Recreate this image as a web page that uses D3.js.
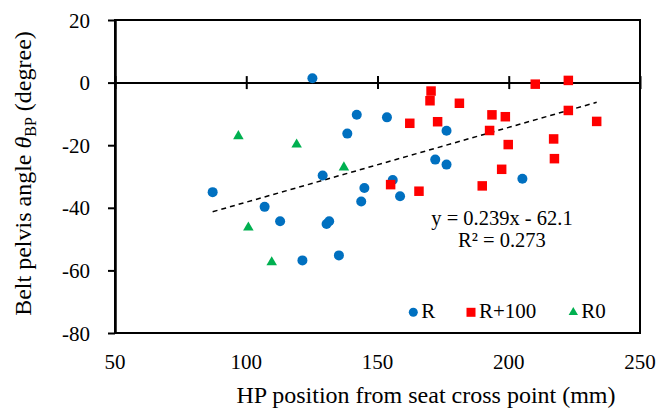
<!DOCTYPE html>
<html lang="en">
<head>
    <title>Belt pelvis angle vs HP position</title>
    <script src="https://d3js.org/d3.v7.min.js"></script>
    <style>
        body {
            margin: 0;
            background: white;
        }
        svg text {
            font-family: 'Liberation Serif', 'Times New Roman', serif;
            fill: #000;
        }
        .tick-label {
            font-size: 21px;
        }
        .axis-title {
            font-size: 24px;
        }
        .eq-text {
            font-size: 20.5px;
        }
        .legend-text {
            font-size: 21px;
        }
    </style>
</head>
<body>
    <div id="chart"></div>

    <script>
        // series R
        const rX = [125.2, 142.1, 153.6, 176.3, 138.5, 172.0, 176.3, 129.1, 155.8, 205.2,
                    87.2, 107.0, 112.9, 145.0, 158.6, 143.8, 130.6, 131.6, 121.4, 135.3];
        const rY = [1.4, -10.3, -11.1, -15.4, -16.3, -24.6, -26.2, -29.7, -31.1, -30.7,
                    -35.0, -39.7, -44.3, -33.7, -36.3, -38.0, -45.2, -44.3, -56.8, -55.2];
        // series R+100
        const r100X = [170.4, 170.0, 181.2, 162.3, 172.9, 210.1, 222.7, 222.7, 193.6, 198.7,
                       233.5, 192.7, 217.1, 199.8, 217.4, 197.3, 189.9, 155.0, 165.8];
        const r100Y = [-2.7, -5.8, -6.6, -13.0, -12.5, -0.5, 0.7, -8.9, -10.3, -10.9,
                       -12.4, -15.3, -18.0, -19.8, -24.3, -27.7, -33.0, -32.6, -34.7];
        // series R0
        const r0X = [97.0, 119.2, 137.2, 100.8, 109.7];
        const r0Y = [-17.1, -19.8, -27.1, -46.3, -57.4];

        const xTicks = [50, 100, 150, 200, 250];
        const yTicks = [20, 0, -20, -40, -60, -80];
        const slope = 0.239, intercept = -62.1, r2 = 0.273;

        const W = 657, H = 410;
        const margin = {top: 20, right: 17, bottom: 77, left: 115};
        const width = W - margin.left - margin.right;
        const height = H - margin.top - margin.bottom;

        const svg = d3.select("#chart")
            .append("svg")
            .attr("width", W)
            .attr("height", H);

        const g = svg.append("g")
            .attr("transform", `translate(${margin.left},${margin.top})`);

        const x = d3.scaleLinear().domain([50, 250]).range([0, width]);
        const y = d3.scaleLinear().domain([-80, 20]).range([height, 0]);

        // frame
        g.append("rect")
            .attr("width", width)
            .attr("height", height)
            .attr("fill", "none")
            .attr("stroke", "#000")
            .attr("stroke-width", 2);

        // y axis (left, outside ticks)
        const yAxis = g.append("g")
            .call(d3.axisLeft(y).tickValues(yTicks).tickSize(7).tickSizeOuter(0)
                .tickPadding(18).tickFormat(d => String(d)));
        yAxis.attr("font-family", null).attr("font-size", null);
        yAxis.select(".domain").attr("stroke-width", 2.5);
        yAxis.selectAll(".tick line").attr("stroke-width", 2);
        yAxis.selectAll(".tick text")
            .attr("class", "tick-label")
            .attr("dy", "0.34em");

        // x axis along y = 0, crossing ticks
        const xAxis = g.append("g")
            .attr("transform", `translate(0,${y(0)})`)
            .call(d3.axisBottom(x).tickValues(xTicks).tickSize(0).tickSizeOuter(0).tickFormat(""));
        xAxis.select(".domain").attr("stroke-width", 2);
        xAxis.selectAll(".tick line")
            .attr("y1", -6.5)
            .attr("y2", 6.5)
            .attr("stroke-width", 2);

        // x tick labels at the bottom
        g.append("g")
            .selectAll("text")
            .data(xTicks)
            .join("text")
            .attr("class", "tick-label")
            .attr("x", d => x(d))
            .attr("y", 369 - margin.top)
            .attr("text-anchor", "middle")
            .text(d => d);

        // trend line
        const allX = rX.concat(r100X, r0X);
        const [xmin, xmax] = d3.extent(allX);
        g.append("line")
            .attr("x1", x(xmin))
            .attr("y1", y(slope * xmin + intercept))
            .attr("x2", x(xmax))
            .attr("y2", y(slope * xmax + intercept))
            .attr("stroke", "#000")
            .attr("stroke-width", 1.5)
            .attr("stroke-dasharray", "5,4");

        const blue = "#0070C0", red = "#FF0000", green = "#00B050";

        // R circles
        g.append("g")
            .selectAll("circle")
            .data(rX.map((v, i) => [v, rY[i]]))
            .join("circle")
            .attr("cx", d => x(d[0]))
            .attr("cy", d => y(d[1]))
            .attr("r", 5)
            .attr("fill", blue);

        // R+100 squares
        const sq = 9.5;
        g.append("g")
            .selectAll("rect")
            .data(r100X.map((v, i) => [v, r100Y[i]]))
            .join("rect")
            .attr("x", d => x(d[0]) - sq / 2)
            .attr("y", d => y(d[1]) - sq / 2)
            .attr("width", sq)
            .attr("height", sq)
            .attr("fill", red);

        // R0 triangles
        const tri = d3.symbol().type(d3.symbolTriangle).size(48);
        g.append("g")
            .selectAll("path")
            .data(r0X.map((v, i) => [v, r0Y[i]]))
            .join("path")
            .attr("d", tri)
            .attr("transform", d => `translate(${x(d[0])},${y(d[1])})`)
            .attr("fill", green);

        // equation
        const eq = g.append("text")
            .attr("class", "eq-text")
            .attr("text-anchor", "middle");
        eq.append("tspan")
            .attr("x", 502 - margin.left)
            .attr("y", 225 - margin.top)
            .text(`y = ${slope}x - ${Math.abs(intercept)}`);
        eq.append("tspan")
            .attr("x", 502 - margin.left)
            .attr("y", 247 - margin.top)
            .text(`R² = ${r2}`);

        // legend
        const legendItems = [
            {name: "R", color: blue, shape: "circle", cx: 413.3},
            {name: "R+100", color: red, shape: "square", cx: 471},
            {name: "R0", color: green, shape: "triangle", cx: 573.3}
        ];
        const legend = svg.append("g");
        const ly = 312.3;
        legendItems.forEach(it => {
            if (it.shape === "circle") {
                legend.append("circle").attr("cx", it.cx).attr("cy", ly).attr("r", 4.5).attr("fill", it.color);
            } else if (it.shape === "square") {
                legend.append("rect").attr("x", it.cx - 4.5).attr("y", ly - 4.5)
                    .attr("width", 9).attr("height", 9).attr("fill", it.color);
            } else {
                legend.append("path").attr("d", d3.symbol().type(d3.symbolTriangle).size(38))
                    .attr("transform", `translate(${it.cx},${ly})`).attr("fill", it.color);
            }
            legend.append("text")
                .attr("class", "legend-text")
                .attr("x", it.cx + 8)
                .attr("y", 318)
                .text(it.name);
        });

        // axis titles
        svg.append("text")
            .attr("class", "axis-title")
            .attr("x", 426)
            .attr("y", 403)
            .attr("text-anchor", "middle")
            .text("HP position from seat cross point (mm)");

        const yt = svg.append("text")
            .attr("class", "axis-title")
            .attr("transform", "translate(31,173.5) rotate(-90)")
            .attr("text-anchor", "middle");
        yt.append("tspan").text("Belt pelvis angle ");
        yt.append("tspan").attr("font-style", "italic").text("θ");
        yt.append("tspan").attr("font-size", "16px").attr("dy", 5).text("BP");
        yt.append("tspan").attr("dy", -5).text(" (degree)");
    </script>
</body>
</html>
